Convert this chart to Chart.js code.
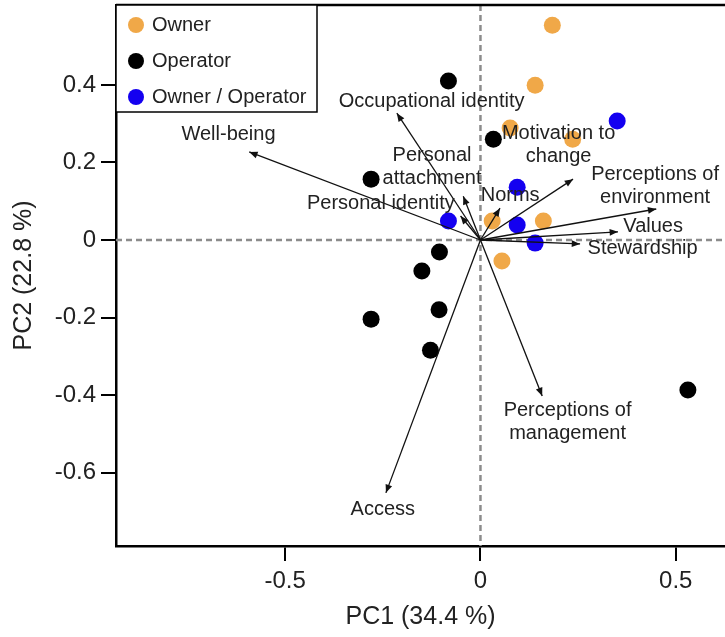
<!DOCTYPE html>
<html lang="en">
<head>
    <meta charset="UTF-8">
    <title>PCA biplot</title>
    <script src="https://cdn.jsdelivr.net/npm/chart.js"></script>
    <style>
        body {
            margin: 0;
            padding: 0;
            background-color: #ffffff;
        }
        .chart-container {
            position: relative;
            width: 725px;
            height: 637px;
        }
    </style>
</head>
<body>

    <div class="chart-container">
        <canvas id="pcaChart"></canvas>
    </div>

    <script>
        // Site scores, one pair of arrays per group
        const ownerPC1 = [0.184, 0.140, 0.076, 0.236, 0.161, 0.030, 0.055];
        const ownerPC2 = [0.554, 0.399, 0.289, 0.260, 0.049, 0.049, -0.054];

        const operatorPC1 = [-0.082, 0.033, -0.280, -0.105, -0.150, -0.280, -0.106, -0.128, 0.531];
        const operatorPC2 = [0.410, 0.260, 0.157, -0.031, -0.080, -0.204, -0.180, -0.284, -0.387];

        const ownerOperatorPC1 = [0.350, 0.094, -0.082, 0.094, 0.140];
        const ownerOperatorPC2 = [0.307, 0.136, 0.049, 0.039, -0.008];

        // Variable loadings (arrow tips)
        const variables = [
            'Well-being', 'Occupational identity', 'Personal attachment', 'Personal identity',
            'Norms', 'Motivation to change', 'Perceptions of environment', 'Values',
            'Stewardship', 'Perceptions of management', 'Access'
        ];
        const loadingPC1 = [-0.592, -0.214, -0.044, -0.051, 0.050, 0.237, 0.450, 0.352, 0.255, 0.158, -0.242];
        const loadingPC2 = [0.227, 0.327, 0.113, 0.062, 0.082, 0.157, 0.080, 0.021, -0.010, -0.402, -0.652];

        // Axis ticks
        const pc1Ticks = [-0.5, 0, 0.5];
        const pc2Ticks = [-0.6, -0.4, -0.2, 0, 0.2, 0.4];

        const toPoints = (xs, ys) => xs.map((x, i) => ({ x: x, y: ys[i] }));

        // where each variable name sits (data units) and how it wraps
        const labelSpots = {
            'Well-being': [-0.645, 0.271, ['Well-being']],
            'Occupational identity': [-0.125, 0.356, ['Occupational identity']],
            'Personal attachment': [-0.124, 0.188, ['Personal', 'attachment']],
            'Personal identity': [-0.255, 0.095, ['Personal identity']],
            'Norms': [0.076, 0.116, ['Norms']],
            'Motivation to change': [0.200, 0.246, ['Motivation to', 'change']],
            'Perceptions of environment': [0.447, 0.139, ['Perceptions of', 'environment']],
            'Values': [0.442, 0.034, ['Values']],
            'Stewardship': [0.415, -0.023, ['Stewardship']],
            'Perceptions of management': [0.223, -0.469, ['Perceptions of', 'management']],
            'Access': [-0.250, -0.696, ['Access']]
        };

        const FONT = "'Liberation Sans', Arial, Helvetica, sans-serif";
        const ORANGE = 'rgb(240, 168, 72)';
        const BLUE = 'rgb(20, 0, 240)';

        function drawArrow(ctx, x0, y0, x1, y1) {
            const ang = Math.atan2(y1 - y0, x1 - x0);
            const len = 9, spread = Math.PI / 8;
            ctx.beginPath();
            ctx.moveTo(x0, y0);
            ctx.lineTo(x1, y1);
            ctx.stroke();
            ctx.beginPath();
            ctx.moveTo(x1, y1);
            ctx.lineTo(x1 - len * Math.cos(ang - spread), y1 - len * Math.sin(ang - spread));
            ctx.lineTo(x1 - len * Math.cos(ang + spread), y1 - len * Math.sin(ang + spread));
            ctx.closePath();
            ctx.fill();
        }

        const biplotPlugin = {
            id: 'biplot',
            beforeDatasetsDraw(chart) {
                const { ctx, chartArea: a, scales: { x, y } } = chart;
                ctx.save();
                ctx.strokeStyle = '#8c8c8c';
                ctx.lineWidth = 2.5;
                ctx.setLineDash([6, 4]);
                const x0 = x.getPixelForValue(0), y0 = y.getPixelForValue(0);
                ctx.beginPath();
                ctx.moveTo(a.left, y0);
                ctx.lineTo(a.right, y0);
                ctx.moveTo(x0, a.top);
                ctx.lineTo(x0, a.bottom);
                ctx.stroke();
                ctx.restore();
            },
            afterDatasetsDraw(chart) {
                const { ctx, chartArea: a, scales: { x, y } } = chart;
                const ox = x.getPixelForValue(0), oy = y.getPixelForValue(0);

                // loadings arrows
                ctx.save();
                ctx.strokeStyle = '#111';
                ctx.fillStyle = '#111';
                ctx.lineWidth = 1.3;
                variables.forEach((v, i) => {
                    drawArrow(ctx, ox, oy, x.getPixelForValue(loadingPC1[i]), y.getPixelForValue(loadingPC2[i]));
                });

                // variable names
                ctx.font = '20px ' + FONT;
                ctx.fillStyle = '#222';
                ctx.textAlign = 'center';
                ctx.textBaseline = 'middle';
                variables.forEach(v => {
                    const [lx, ly, lines] = labelSpots[v];
                    const px = x.getPixelForValue(lx), py = y.getPixelForValue(ly);
                    const step = 23;
                    lines.forEach((t, k) => {
                        ctx.fillText(t, px, py + (k - (lines.length - 1) / 2) * step);
                    });
                });

                // top frame line
                ctx.strokeStyle = '#000';
                ctx.lineWidth = 2.5;
                ctx.beginPath();
                ctx.moveTo(a.left, a.top);
                ctx.lineTo(a.right, a.top);
                ctx.stroke();

                // legend box in the top-left corner
                const bx = a.left, by = a.top, bw = 201, bh = 107;
                ctx.fillStyle = '#fff';
                ctx.fillRect(bx, by, bw, bh);
                ctx.lineWidth = 1.5;
                ctx.strokeRect(bx, by, bw, bh);
                const rows = [['Owner', ORANGE], ['Operator', '#000'], ['Owner / Operator', BLUE]];
                ctx.textAlign = 'left';
                rows.forEach(([t, c], k) => {
                    const ry = by + 20 + k * 36;
                    ctx.fillStyle = c;
                    ctx.beginPath();
                    ctx.arc(bx + 20, ry, 8, 0, Math.PI * 2);
                    ctx.fill();
                    ctx.fillStyle = '#222';
                    ctx.fillText(t, bx + 36, ry);
                });
                ctx.restore();
            }
        };

        const data = {
            datasets: [
                {
                    label: 'Owner',
                    data: toPoints(ownerPC1, ownerPC2),
                    backgroundColor: ORANGE,
                    borderWidth: 0,
                    pointRadius: 8.5
                },
                {
                    label: 'Operator',
                    data: toPoints(operatorPC1, operatorPC2),
                    backgroundColor: '#000',
                    borderWidth: 0,
                    pointRadius: 8.5
                },
                {
                    label: 'Owner / Operator',
                    data: toPoints(ownerOperatorPC1, ownerOperatorPC2),
                    backgroundColor: BLUE,
                    borderWidth: 0,
                    pointRadius: 8.5
                }
            ]
        };

        const tickLabel = v => (v === 0 ? '0' : v.toFixed(1));

        const config = {
            type: 'scatter',
            data: data,
            plugins: [biplotPlugin],
            options: {
                responsive: true,
                maintainAspectRatio: false,
                animation: false,
                layout: { autoPadding: false, padding: { top: 5, right: 0, bottom: 5, left: 0 } },
                plugins: {
                    legend: { display: false },
                    tooltip: { enabled: false }
                },
                scales: {
                    x: {
                        type: 'linear',
                        min: -0.933,
                        max: 0.626,
                        afterBuildTicks: s => { s.ticks = pc1Ticks.map(v => ({ value: v })); },
                        afterFit: s => {
                            s.height = 86;
                            s.paddingLeft = 0;
                            s.paddingRight = 0;
                        },
                        ticks: {
                            callback: tickLabel,
                            font: { family: FONT, size: 24 },
                            color: '#222',
                            padding: 6,
                            maxRotation: 0
                        },
                        grid: { drawOnChartArea: false, tickLength: 15, color: '#000', lineWidth: 2 },
                        border: { display: true, color: '#000', width: 2.5 },
                        title: {
                            display: true,
                            text: 'PC1 (34.4 %)',
                            font: { family: FONT, size: 25 },
                            color: '#222',
                            padding: { top: 0, bottom: 0 }
                        }
                    },
                    y: {
                        type: 'linear',
                        min: -0.789,
                        max: 0.606,
                        afterBuildTicks: s => { s.ticks = pc2Ticks.map(v => ({ value: v })); },
                        afterFit: s => {
                            s.width = 116;
                            s.paddingTop = 0;
                            s.paddingBottom = 0;
                        },
                        ticks: {
                            callback: tickLabel,
                            font: { family: FONT, size: 24 },
                            color: '#222',
                            padding: 5
                        },
                        grid: { drawOnChartArea: false, tickLength: 15, color: '#000', lineWidth: 2 },
                        border: { display: true, color: '#000', width: 2.5 },
                        title: {
                            display: true,
                            text: 'PC2 (22.8 %)',
                            font: { family: FONT, size: 25 },
                            color: '#222',
                            padding: { top: 9, bottom: 0 }
                        }
                    }
                }
            }
        };

        const pcaChart = new Chart(document.getElementById('pcaChart'), config);
    </script>

</body>
</html>
